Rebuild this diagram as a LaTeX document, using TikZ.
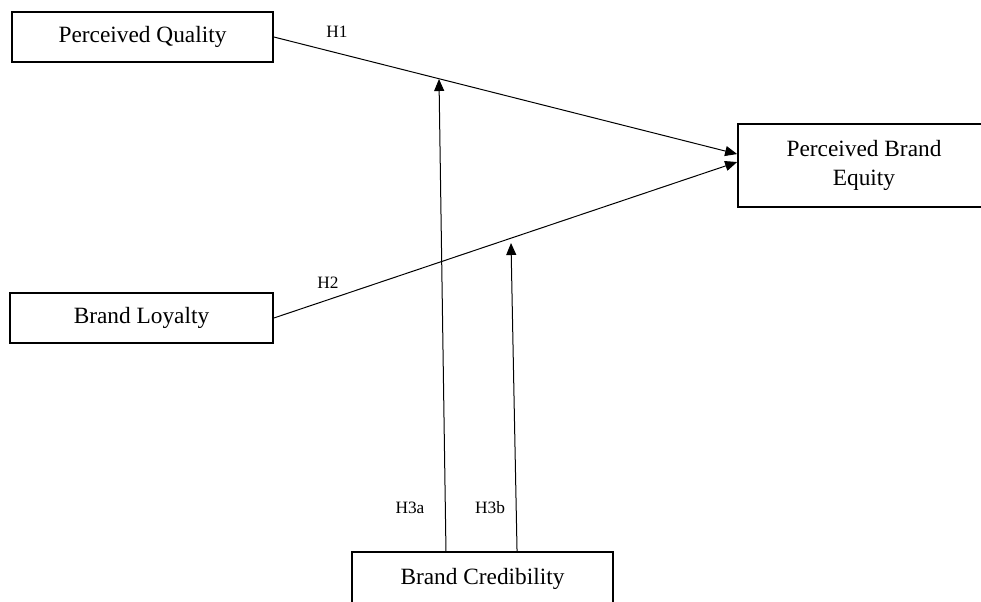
\documentclass[tikz,border=0pt]{standalone}
\usepackage{fontspec}
\setmainfont{Liberation Serif}
\usetikzlibrary{arrows.meta}

\begin{document}
\begin{tikzpicture}[x=0.75pt, y=-0.75pt, >={Triangle[length=9pt,width=7.5pt]},
    box/.style={draw, line width=1.3pt, minimum height=37.5pt, inner sep=0pt, align=center,
        font=\fontsize{17.5}{21.75}\selectfont},
    hyp/.style={font=\fontsize{13}{15}\selectfont}]
    \useasboundingbox (0,0) rectangle (981,601);

    \node[box, minimum width=195.75pt] (pq) at (142.5,37) {Perceived Quality};
    \node[box, minimum width=197.25pt] (bl) at (141.5,318) {Brand Loyalty};
    \node[box, minimum width=189pt, minimum height=62.25pt] (pbe) at (864,165.5) {Perceived Brand\\Equity};
    \node[box, minimum width=195.75pt, minimum height=40pt] (bc) at (482.5,578.5) {Brand Credibility};

    \coordinate (t1) at (439,79);
    \coordinate (t2) at (511,243);

    \draw[->, line width=0.75pt] (pq.east) -- ([yshift=8.6pt]pbe.west);
    \draw[->, line width=0.75pt] (bl.east) -- ([yshift=2.6pt]pbe.west);
    \draw[->, line width=0.75pt] ([xshift=-27.4pt]bc.north) -- (t1);
    \draw[->, line width=0.75pt] ([xshift=25.9pt]bc.north) -- (t2);

    \node[hyp] (h1) at (337,32) {H1};
    \node[hyp] (h2) at (328,283) {H2};
    \node[hyp] (h3a) at (410,508) {H3a};
    \node[hyp] (h3b) at (490,508) {H3b};
\end{tikzpicture}
\end{document}
